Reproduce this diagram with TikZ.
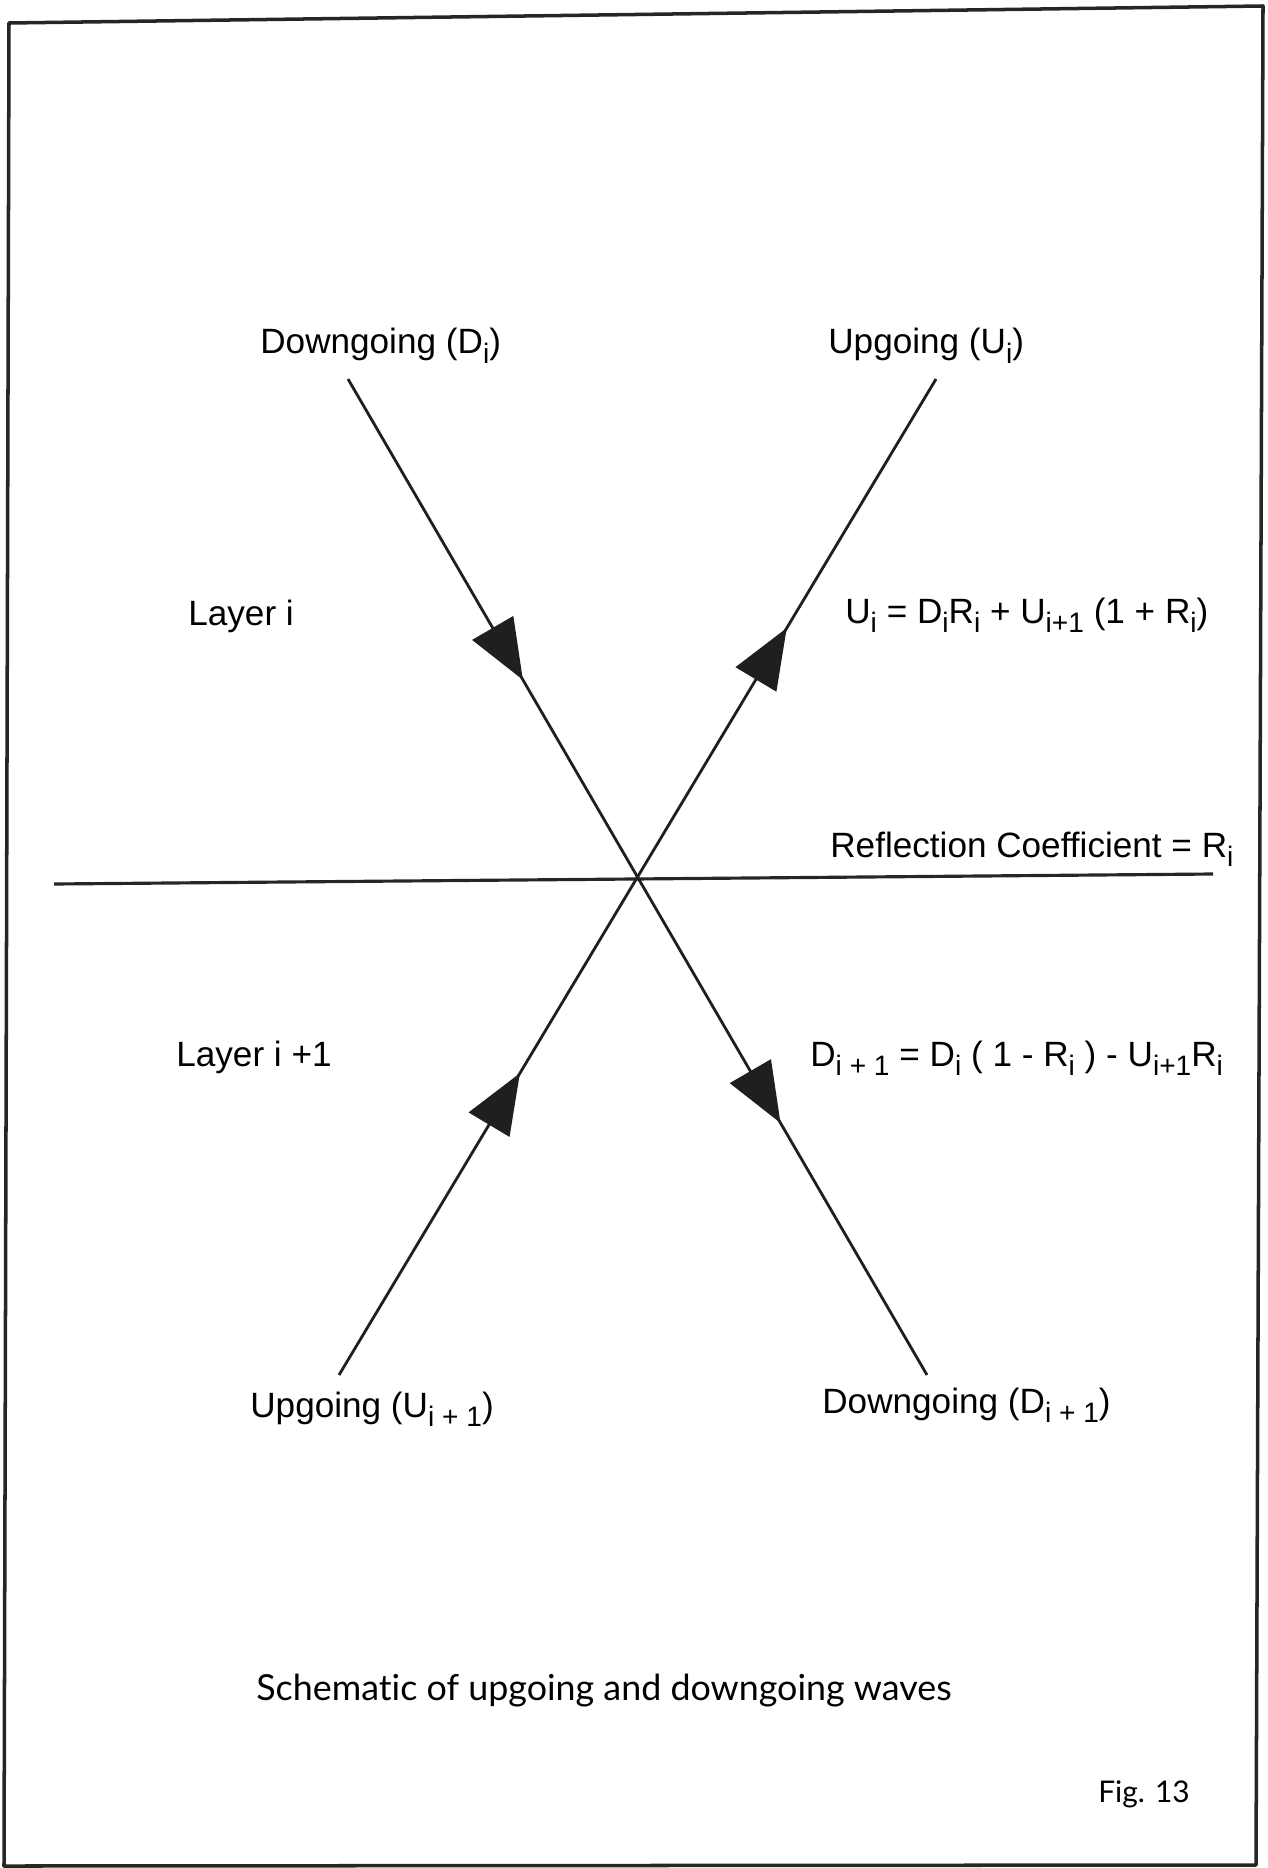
\documentclass[tikz,border=0pt]{standalone}
\usepackage{fontspec}
\setmainfont{Liberation Sans}
\newfontfamily\capfont[Ligatures=NoCommon]{Lato}
\usetikzlibrary{arrows.meta, decorations.markings, positioning}

% lowered subscript as printed in the figure
\newcommand{\sbs}[1]{\raisebox{-0.28em}{\fontsize{16}{16}\selectfont #1}}

\begin{document}
\begin{tikzpicture}[
  x=0.02cm, y=-0.02cm,
  >={Triangle[length=1.2cm, width=0.94cm]},
  every node/.style={inner sep=0pt, font=\fontsize{20}{24}\selectfont},
  lbl/.style={anchor=base west},
  caplbl/.style={anchor=base west, font=\capfont\fontsize{20.4}{24}\selectfont},
  pageframe/.style={draw=black!85, line width=2pt, line join=round},
  iface/.style={draw=black!85, line width=1.8pt},
  wave/.style={draw=black!88, line width=1.6pt, postaction={decorate}},
  downwave/.style={wave, decoration={markings,
      mark=at position 0.302 with {\arrow{>}},
      mark=at position 0.747 with {\arrow{>}}}},
  upwave/.style={wave, decoration={markings,
      mark=at position 0.303 with {\arrow{>}},
      mark=at position 0.750 with {\arrow{>}}}}
]
\useasboundingbox (0,0) rectangle (1267,1868);

% Frame
\draw[pageframe] (9,23) -- (1263,6) -- (1256,1865) -- (4,1866) -- cycle;

% Ray ends
\coordinate (dtop) at (348,379);
\coordinate (dbot) at (927,1375);
\coordinate (utop) at (936,379);
\coordinate (ubot) at (339,1375);
\coordinate (ifleft) at (54,884);
\coordinate (ifright) at (1213,874);

% Interface and rays
\draw[iface] (ifleft) -- (ifright);
\draw[downwave] (dtop) -- (dbot);
\draw[upwave] (ubot) -- (utop);

% Labels - top
\node[lbl] (downi) at (260,354) {Downgoing (D\sbs{i})};
\node[lbl] (upi) at (828,354) {Upgoing (U\sbs{i})};

% Labels - layer i
\node[lbl] (layeri) at (188,625) {Layer i};
\node[lbl] (equp) at (845,623) {U\sbs{i} = D\sbs{i}R\sbs{i} + U\sbs{i+1} (1 + R\sbs{i})};
\node[lbl] (refl) at (830,857) {Reflection Coefficient = R\sbs{i}};

% Labels - layer i+1
\node[lbl] (layerii) at (176,1066) {Layer i +1};
\node[lbl] (eqdown) at (810,1066) {D\sbs{i + 1} = D\sbs{i} ( 1 - R\sbs{i} ) - U\sbs{i+1}R\sbs{i}};

% Labels - bottom
\node[lbl] (upii) at (250,1417) {Upgoing (U\sbs{i + 1})};
\node[lbl] (downii) at (822,1413) {Downgoing (D\sbs{i + 1})};

% Caption
\node[caplbl] (caption) at (256,1700) {Schematic of upgoing and downgoing waves};
\node[caplbl, font=\capfont\fontsize{17}{21}\selectfont] (fig) at (1098,1802) {Fig. 13};

\end{tikzpicture}
\end{document}
